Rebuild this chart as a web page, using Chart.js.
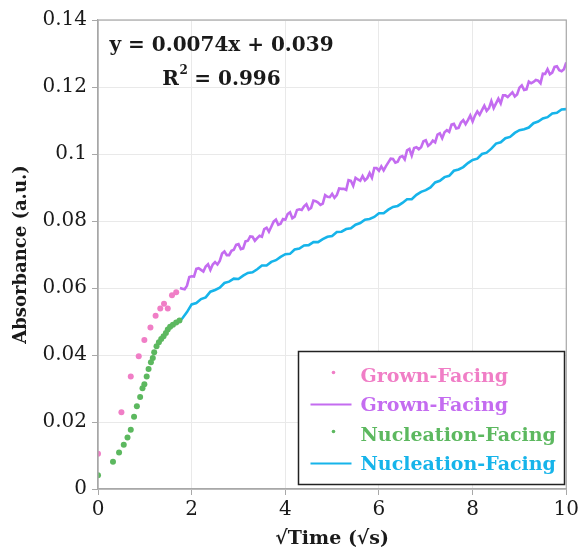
<!DOCTYPE html>
<html>
<head>
<meta charset="utf-8">
<script src="https://cdn.jsdelivr.net/npm/chart.js@4.4.1/dist/chart.umd.min.js"></script>
<style>
html,body{margin:0;padding:0;background:#fff;}
canvas{display:block;}
</style>
</head>
<body>
<canvas id="c" width="582" height="552"></canvas>
<script>
// ---- data ----
const grownDotX = [0, 0.5, 0.7, 0.87, 0.99, 1.12, 1.23, 1.33, 1.41, 1.49, 1.58, 1.67];
const grownDotY = [0.0105, 0.0229, 0.0336, 0.0396, 0.0445, 0.0482, 0.0517, 0.0539, 0.0553, 0.0539, 0.0578, 0.0587];

const nuclDotX = [0, 0.32, 0.45, 0.55, 0.63, 0.70, 0.77, 0.83, 0.90, 0.95, 0.99, 1.04, 1.08, 1.13, 1.17, 1.20, 1.25, 1.30, 1.35, 1.40, 1.45, 1.49, 1.54, 1.60, 1.67, 1.74];
const nuclDotY = [0.0041, 0.0081, 0.0109, 0.0132, 0.0154, 0.0177, 0.0216, 0.0247, 0.0275, 0.0301, 0.0313, 0.0336, 0.0358, 0.0378, 0.0391, 0.0408, 0.0426, 0.0438, 0.0448, 0.0456, 0.0466, 0.0476, 0.0484, 0.0490, 0.0497, 0.0503];

const grownLineX = [1.75,1.8,1.85,1.9,1.95,2.0,2.05,2.1,2.15,2.2,2.25,2.3,2.35,2.4,2.45,2.5,2.55,2.6,2.65,2.7,2.75,2.8,2.85,2.9,2.95,3.0,3.05,3.1,3.15,3.2,3.25,3.3,3.35,3.4,3.45,3.5,3.55,3.6,3.65,3.7,3.75,3.8,3.85,3.9,3.95,4.0,4.05,4.1,4.15,4.2,4.25,4.3,4.35,4.4,4.45,4.5,4.55,4.6,4.65,4.7,4.75,4.8,4.85,4.9,4.95,5.0,5.05,5.1,5.15,5.2,5.25,5.3,5.35,5.4,5.45,5.5,5.55,5.6,5.65,5.7,5.75,5.8,5.85,5.9,5.95,6.0,6.05,6.1,6.15,6.2,6.25,6.3,6.35,6.4,6.45,6.5,6.55,6.6,6.65,6.7,6.75,6.8,6.85,6.9,6.95,7.0,7.05,7.1,7.15,7.2,7.25,7.3,7.35,7.4,7.45,7.5,7.55,7.6,7.65,7.7,7.75,7.8,7.85,7.9,7.95,8.0,8.05,8.1,8.15,8.2,8.25,8.3,8.35,8.4,8.45,8.5,8.55,8.6,8.65,8.7,8.75,8.8,8.85,8.9,8.95,9.0,9.05,9.1,9.15,9.2,9.25,9.3,9.35,9.4,9.45,9.5,9.55,9.6,9.65,9.7,9.75,9.8,9.85,9.9,9.95,10.0];

const grownLineY = [0.0600,0.0598,0.0596,0.0607,0.0633,0.0635,0.0634,0.0657,0.0659,0.0654,0.0649,0.0664,0.0671,0.0654,0.0670,0.0677,0.0670,0.0681,0.0703,0.0709,0.0698,0.0698,0.0711,0.0714,0.0729,0.0731,0.0716,0.0718,0.0739,0.0741,0.0754,0.0753,0.0741,0.0749,0.0756,0.0753,0.0776,0.0780,0.0768,0.0783,0.0798,0.0804,0.0789,0.0792,0.0806,0.0804,0.0821,0.0826,0.0808,0.0813,0.0833,0.0835,0.0833,0.0844,0.0850,0.0834,0.0839,0.0861,0.0859,0.0855,0.0848,0.0852,0.0877,0.0872,0.0871,0.0881,0.0869,0.0877,0.0897,0.0896,0.0896,0.0893,0.0922,0.0920,0.0905,0.0929,0.0924,0.0920,0.0934,0.0921,0.0928,0.0943,0.0929,0.0958,0.0958,0.0950,0.0963,0.0951,0.0964,0.0975,0.0986,0.0985,0.0974,0.0977,0.0991,0.0994,0.0984,0.1011,0.1015,0.0995,0.1018,0.1020,0.1014,0.1020,0.1038,0.1041,0.1024,0.1030,0.1040,0.1035,0.1058,0.1062,0.1047,0.1065,0.1071,0.1066,0.1088,0.1090,0.1076,0.1078,0.1094,0.1101,0.1089,0.1101,0.1115,0.1097,0.1115,0.1127,0.1117,0.1131,0.1144,0.1129,0.1137,0.1158,0.1137,0.1151,0.1165,0.1151,0.1175,0.1175,0.1170,0.1177,0.1184,0.1172,0.1178,0.1198,0.1205,0.1191,0.1193,0.1216,0.1211,0.1215,0.1221,0.1219,0.1211,0.1240,0.1239,0.1253,0.1238,0.1243,0.1260,0.1262,0.1250,0.1247,0.1253,0.1273];

const nuclLineX = [1.75,1.8,1.9,2.0,2.1,2.2,2.3,2.4,2.5,2.6,2.7,2.8,2.9,3.0,3.1,3.2,3.3,3.4,3.5,3.6,3.7,3.8,3.9,4.0,4.1,4.2,4.3,4.4,4.5,4.6,4.7,4.8,4.9,5.0,5.1,5.2,5.3,5.4,5.5,5.6,5.7,5.8,5.9,6.0,6.1,6.2,6.3,6.4,6.5,6.6,6.7,6.8,6.9,7.0,7.1,7.2,7.3,7.4,7.5,7.6,7.7,7.8,7.9,8.0,8.1,8.2,8.3,8.4,8.5,8.6,8.7,8.8,8.9,9.0,9.1,9.2,9.3,9.4,9.5,9.6,9.7,9.8,9.9,10.0];

const nuclLineY = [0.0503,0.0509,0.0528,0.0551,0.0555,0.0567,0.0572,0.0589,0.0594,0.0601,0.0615,0.0619,0.0628,0.0627,0.0637,0.0645,0.0647,0.0656,0.0667,0.0667,0.0678,0.0683,0.0693,0.0701,0.0702,0.0715,0.0718,0.0727,0.0728,0.0737,0.0737,0.0746,0.0753,0.0755,0.0767,0.0768,0.0776,0.0778,0.0789,0.0794,0.0804,0.0806,0.0812,0.0823,0.0823,0.0834,0.0842,0.0845,0.0854,0.0865,0.0865,0.0878,0.0887,0.0892,0.0900,0.0915,0.0920,0.0931,0.0935,0.0950,0.0954,0.0961,0.0973,0.0982,0.0986,0.1000,0.1004,0.1016,0.1031,0.1035,0.1047,0.1051,0.1063,0.1071,0.1074,0.1079,0.1092,0.1097,0.1106,0.1110,0.1121,0.1123,0.1133,0.1134];

const yTickLabels = ['0','0.02','0.04','0.06','0.08','0.1','0.12','0.14'];
const xTickLabels = ['0','2','4','6','8','10'];
const legendLabels = ['Grown-Facing','Grown-Facing','Nucleation-Facing','Nucleation-Facing'];
const equationLines = ['y = 0.0074x + 0.039', 'R', '2', ' = 0.996'];

const C_PINK = '#f07ec6';
const C_PURPLE = '#c46cf0';
const C_GREEN = '#5cb85f';
const C_BLUE = '#16b4ea';

const toPts = (xs, ys) => xs.map((x, i) => ({x: x, y: ys[i]}));

const SERIF = '"DejaVu Serif", serif';

const overlay = {
  id: 'overlay',
  afterDraw(chart) {
    const ctx = chart.ctx;
    const a = chart.chartArea;
    ctx.save();
    // frame
    ctx.strokeStyle = '#a8a8a8';
    ctx.lineWidth = 1.2;
    ctx.strokeRect(a.left, a.top, a.right - a.left, a.bottom - a.top);

    // equation
    ctx.fillStyle = '#1a1a1a';
    ctx.textBaseline = 'middle';
    ctx.textAlign = 'center';
    ctx.font = 'bold 20px ' + SERIF;
    const cx = a.left + 123.5;
    ctx.fillText(equationLines[0], cx, a.top + 26);
    const wR = ctx.measureText(equationLines[1]).width;
    ctx.font = 'bold 12px ' + SERIF;
    const w2 = ctx.measureText(equationLines[2]).width;
    ctx.font = 'bold 20px ' + SERIF;
    const wRest = ctx.measureText(equationLines[3]).width;
    const total = wR + w2 + wRest;
    const sx = cx - total / 2;
    ctx.textAlign = 'left';
    ctx.fillText(equationLines[1], sx, a.top + 60);
    ctx.font = 'bold 12px ' + SERIF;
    ctx.fillText(equationLines[2], sx + wR + 0.5, a.top + 51);
    ctx.font = 'bold 20px ' + SERIF;
    ctx.fillText(equationLines[3], sx + wR + w2, a.top + 60);

    // legend box
    const bx = a.left + 200.5, by = a.bottom - 137.5, bw = 266, bh = 133;
    ctx.fillStyle = '#ffffff';
    ctx.fillRect(bx, by, bw, bh);
    ctx.strokeStyle = '#222';
    ctx.lineWidth = 1.5;
    ctx.strokeRect(bx, by, bw, bh);
    const ds = chart.data.datasets;
    const rows = [by + 24, by + 53, by + 83, by + 112];
    ctx.font = 'bold 19px ' + SERIF;
    ctx.textAlign = 'left';
    ctx.textBaseline = 'middle';
    ds.forEach((d, i) => {
      const y = rows[i];
      if (d.showLine) {
        ctx.strokeStyle = d.borderColor;
        ctx.lineWidth = 2;
        ctx.beginPath();
        ctx.moveTo(bx + 12, y);
        ctx.lineTo(bx + 53, y);
        ctx.stroke();
      } else {
        ctx.fillStyle = d.backgroundColor;
        ctx.beginPath();
        ctx.arc(bx + 35, y - 3, 1.8, 0, Math.PI * 2);
        ctx.fill();
      }
      ctx.fillStyle = d.borderColor;
      ctx.fillText(legendLabels[i], bx + 62, y + 2);
    });
    ctx.restore();
  }
};

new Chart(document.getElementById('c'), {
  type: 'scatter',
  data: {
    datasets: [
      {label: legendLabels[0], data: toPts(grownDotX, grownDotY), showLine: false,
       backgroundColor: C_PINK, borderColor: C_PINK, pointRadius: 3, pointBorderWidth: 0},
      {label: legendLabels[1], data: toPts(grownLineX, grownLineY), showLine: true,
       borderColor: C_PURPLE, backgroundColor: C_PURPLE, borderWidth: 2.6, pointRadius: 0, tension: 0},
      {label: legendLabels[2], data: toPts(nuclDotX, nuclDotY), showLine: false,
       backgroundColor: C_GREEN, borderColor: C_GREEN, pointRadius: 3, pointBorderWidth: 0},
      {label: legendLabels[3], data: toPts(nuclLineX, nuclLineY), showLine: true,
       borderColor: C_BLUE, backgroundColor: C_BLUE, borderWidth: 2.6, pointRadius: 0, tension: 0}
    ]
  },
  options: {
    responsive: false,
    animation: false,
    events: [],
    layout: {padding: {top: 20, right: 15, left: 0, bottom: 0}},
    plugins: {legend: {display: false}, tooltip: {enabled: false}},
    scales: {
      x: {
        type: 'linear', min: 0, max: 10,
        afterFit(s) { s.height = 63; },
        ticks: {stepSize: 2, color: '#1a1a1a', padding: 3,
                font: {family: SERIF, size: 20},
                callback: (v) => xTickLabels[Math.round(v / 2)]},
        grid: {color: '#e9e9e9', lineWidth: 1, drawTicks: true, tickLength: 6, tickColor: '#a8a8a8'},
        border: {display: true, color: '#a8a8a8', width: 1.2},
        title: {display: true, text: '√Time (√s)', color: '#1a1a1a',
                font: {family: SERIF, size: 19, weight: 'bold'}, padding: {top: 0, bottom: 2}}
      },
      y: {
        type: 'linear', min: 0, max: 0.14,
        afterFit(s) { s.width = 98; },
        ticks: {stepSize: 0.02, color: '#1a1a1a', padding: 5,
                font: {family: SERIF, size: 20},
                callback: (v) => yTickLabels[Math.round(v / 0.02)]},
        grid: {color: '#e9e9e9', lineWidth: 1, drawTicks: true, tickLength: 6, tickColor: '#a8a8a8'},
        border: {display: true, color: '#a8a8a8', width: 1.2},
        title: {display: true, text: 'Absorbance (a.u.)', color: '#1a1a1a',
                font: {family: SERIF, size: 18, weight: 'bold'}, padding: {top: 11, bottom: 0}}
      }
    }
  },
  plugins: [overlay]
});
</script>
</body>
</html>
